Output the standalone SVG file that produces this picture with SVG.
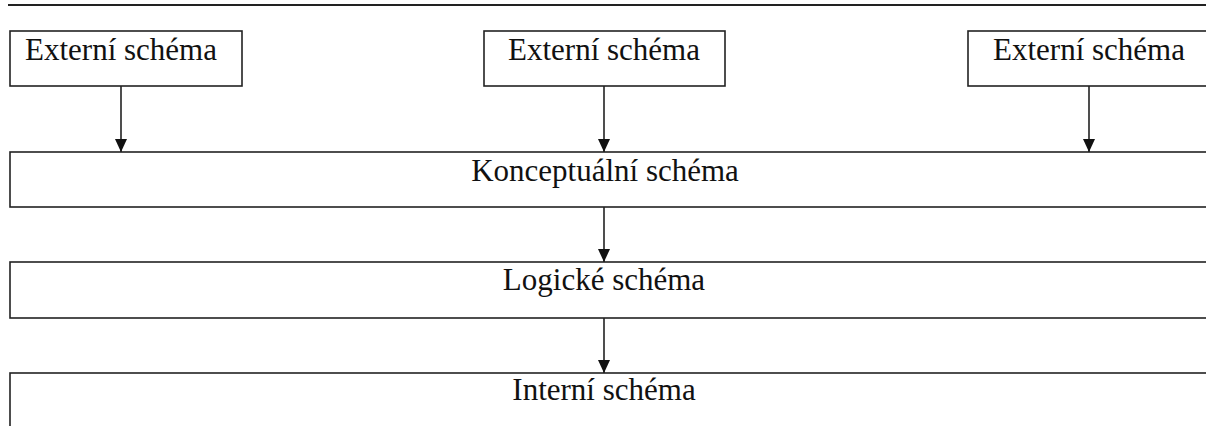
<svg xmlns="http://www.w3.org/2000/svg" width="1206" height="426" viewBox="0 0 1206 426">
<style>
.box{fill:#fff;stroke:#222;stroke-width:1.6}
.lbl{font-family:"Liberation Serif","Times New Roman",serif;font-size:31px;fill:#111;text-anchor:middle}
.conn{stroke:#222;stroke-width:1.6;fill:none}
</style>
<defs>
<marker id="arr" markerUnits="userSpaceOnUse" markerWidth="14" markerHeight="12" refX="13" refY="6" orient="auto">
<path d="M0,0 L13,6 L0,12 Z" fill="#111"/>
</marker>
</defs>
<rect width="1206" height="426" fill="#fff"/>
<line x1="8" y1="5" x2="1206" y2="5" stroke="#222" stroke-width="2"/>
<g id="ext1"><rect class="box" x="10" y="31" width="232" height="55"/><text class="lbl" x="121" y="60">Externí schéma</text></g>
<g id="ext2"><rect class="box" x="484" y="31" width="241" height="55"/><text class="lbl" x="604" y="60">Externí schéma</text></g>
<g id="ext3"><rect class="box" x="968" y="31" width="260" height="55"/><text class="lbl" x="1089" y="60">Externí schéma</text></g>
<g id="konc"><rect class="box" x="10" y="152" width="1220" height="55"/><text class="lbl" x="605" y="181">Konceptuální schéma</text></g>
<g id="log"><rect class="box" x="10" y="262" width="1220" height="56"/><text class="lbl" x="604" y="290">Logické schéma</text></g>
<g id="int"><rect class="box" x="10" y="373" width="1220" height="80"/><text class="lbl" x="604" y="400">Interní schéma</text></g>
<g id="connectors">
<line class="conn" x1="121" y1="86" x2="121" y2="152" marker-end="url(#arr)"/>
<line class="conn" x1="604" y1="86" x2="604" y2="152" marker-end="url(#arr)"/>
<line class="conn" x1="1089" y1="86" x2="1089" y2="152" marker-end="url(#arr)"/>
<line class="conn" x1="604" y1="207" x2="604" y2="262" marker-end="url(#arr)"/>
<line class="conn" x1="604" y1="318" x2="604" y2="373" marker-end="url(#arr)"/>
</g>
</svg>
